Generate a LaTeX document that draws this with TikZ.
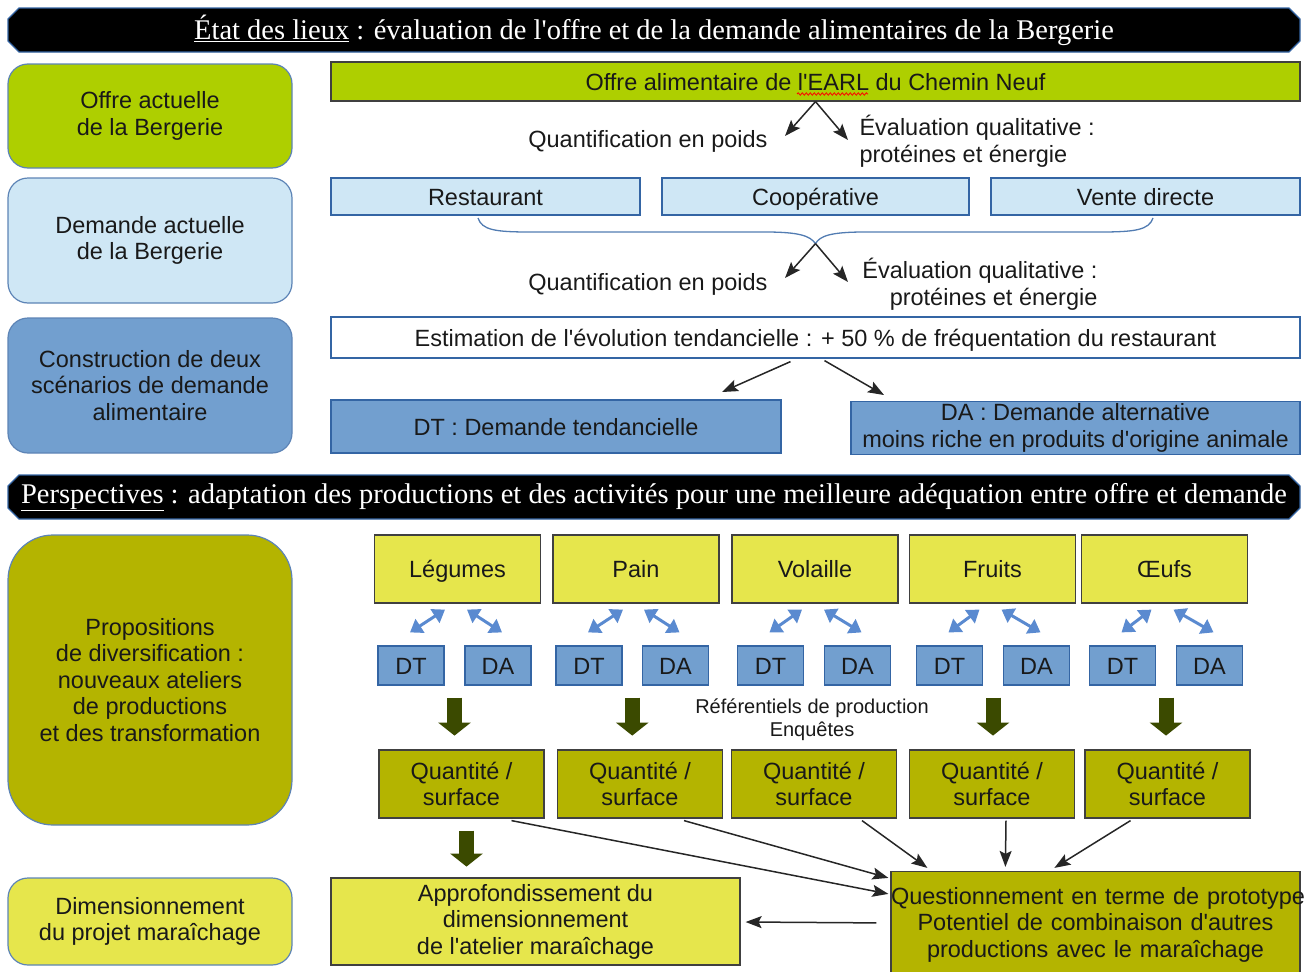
\documentclass[tikz,border=0pt]{standalone}
\usepackage{fontspec}
\setmainfont{Liberation Serif}[Ligatures=TeXOff]
\setsansfont{Liberation Sans}[Ligatures=TeXOff]
\usepackage{tikz}
\usetikzlibrary{arrows.meta}
\usetikzlibrary{calc,positioning}
\usetikzlibrary{decorations.pathmorphing}

\definecolor{vertlime}{HTML}{AECF00}
\definecolor{bleuclair}{HTML}{CFE7F5}
\definecolor{bleumoyen}{HTML}{729FCF}
\definecolor{bordbleu}{HTML}{3465A4}
\definecolor{oliveboite}{HTML}{B4B400}
\definecolor{jaune}{HTML}{E6E64C}
\definecolor{vertfonce}{HTML}{3B4A00}
\definecolor{flechebleue}{HTML}{5A8AD0}

\tikzset{
    every node/.style={font=\sffamily\fontsize{23.5}{26.5}\selectfont, text=black!90},
    left node/.style={draw=bordbleu!80, line width=1.2pt, rounded corners=20pt, minimum width=284pt, align=center, inner sep=0pt},
    box node/.style={draw=black!75, line width=1.2pt, align=center, inner sep=0pt},
    one line/.style={text height=22pt, text depth=5pt},
    blue node/.style={box node, draw=bordbleu, fill=bleumoyen},
    prod node/.style={box node, one line, fill=jaune, minimum width=166pt, minimum height=68pt},
    qte node/.style={box node, fill=oliveboite, minimum width=165pt, minimum height=68pt},
    scen node/.style={blue node, one line, minimum width=66pt, minimum height=39pt},
    banner/.style={fill=black, draw=bordbleu, line width=1.2pt},
    banner text/.style={font=\rmfamily\fontsize{28.5}{30}\selectfont, text=white},
    fleche/.style={->, line width=1.5pt, draw=black!85},
    dbl fleche/.style={{Triangle[width=16pt,length=12pt]}-{Triangle[width=16pt,length=12pt]}, line width=3pt, draw=flechebleue},
    grosse fleche/.style={-{Triangle[width=32pt,length=13pt]}, line width=15pt, draw=vertfonce},
    accolade/.style={draw=bordbleu!85, line width=1.3pt}
}

\begin{document}
\begin{tikzpicture}[x=1pt,y=-1pt,>={Stealth[length=16pt,width=12pt,inset=3pt]}]
    \useasboundingbox (0,0) rectangle (1307,972);

    % Etat des lieux
    \draw[banner] (8,19) -- (19,8) -- (1289,8) -- (1300,19) -- (1300,41) -- (1289,52) -- (19,52) -- (8,41) -- cycle;
    \node[banner text] (etat) at (654,30) {\underline{État des lieux} : évaluation de l'offre et de la demande alimentaires de la Bergerie};

    \node[left node, fill=vertlime, minimum height=104pt] (offreact) at (150,116) {Offre actuelle\\de la Bergerie};
    \node[left node, fill=bleuclair, minimum height=125pt] (demact) at (150,240.5) {Demande actuelle\\de la Bergerie};
    \node[left node, fill=bleumoyen, minimum height=135pt] (scen) at (150,385.5) {Construction de deux\\scénarios de demande\\alimentaire};

    \node[box node, one line, fill=vertlime, minimum width=969pt, minimum height=39pt] (offre) at (815.5,81.5) {Offre alimentaire de l'EARL du Chemin Neuf};
    \draw[red, line width=0.8pt, decorate, decoration={snake, amplitude=1.2pt, segment length=4pt}] (797,94) -- (868,94);
    \coordinate (poidsA) at (785,136);
    \coordinate (qualA) at (848,140);
    \draw[fleche] (offre.south) -- (poidsA);
    \draw[fleche] (offre.south) -- (qualA);
    \node[anchor=east] (txtpoidsA) at (771,141) {Quantification en poids};
    \node[anchor=west, align=left] (txtqualA) at (856,141) {Évaluation qualitative :\\protéines et énergie};

    \node[box node, one line, draw=bordbleu, fill=bleuclair, minimum width=309pt, minimum height=37pt] (resto) at (485.5,196.5) {Restaurant};
    \node[box node, one line, draw=bordbleu, fill=bleuclair, minimum width=307pt, minimum height=37pt] (coop) [right=20.8pt of resto] {Coopérative};
    \node[box node, one line, draw=bordbleu, fill=bleuclair, minimum width=309pt, minimum height=37pt] (vente) [right=20.8pt of coop] {Vente directe};

    \coordinate (pointe) at ($(coop.south)+(0,28)$);
    \draw[accolade] (478,218) .. controls (482,230) and (495,232) .. (530,232) -- (765,232)
        .. controls (800,232) and (810,236) .. (pointe)
        .. controls (820,236) and (830,232) .. (865,232) -- (1100,232)
        .. controls (1135,232) and (1149,230) .. (1153,218);
    \coordinate (poidsB) at (785,278);
    \coordinate (qualB) at (848,282);
    \draw[fleche] (pointe) -- (poidsB);
    \draw[fleche] (pointe) -- (qualB);
    \node[anchor=east] (txtpoidsB) at (771,284) {Quantification en poids};
    \node[anchor=east, align=right] (txtqualB) at (1101,284) {Évaluation qualitative :\\protéines et énergie};

    \node[box node, one line, draw=bordbleu, fill=white, minimum width=969pt, minimum height=41pt] (estim) at (815.5,337.5) {Estimation de l'évolution tendancielle : + 50 \% de fréquentation du restaurant};
    \node[blue node, one line, minimum width=450pt, minimum height=53pt] (dt) at (556,426.5) {DT : Demande tendancielle};
    \node[blue node, minimum width=449pt, minimum height=53pt] (da) at (1075.5,428) {DA : Demande alternative\\moins riche en produits d'origine animale};
    \coordinate (versdt) at (722,392);
    \coordinate (versda) at (884,395);
    \draw[fleche] ($(estim.south)+(-25,3)$) -- (versdt);
    \draw[fleche] ($(estim.south)+(9,2)$) -- (versda);

    % Perspectives
    \draw[banner] (8,486) -- (19,475) -- (1289,475) -- (1300,486) -- (1300,508) -- (1289,519) -- (19,519) -- (8,508) -- cycle;
    \node[banner text] (persp) at (654,497) {\underline{Perspectives} : adaptation des productions et des activités pour une meilleure adéquation entre offre et demande};

    \node[left node, fill=oliveboite, minimum height=290pt, rounded corners=45pt] (propos) at (150,680) {Propositions\\de diversification :\\nouveaux ateliers\\de productions\\et des transformation};
    \node[left node, fill=jaune, minimum height=87pt] (dimens) at (150,921.5) {Dimensionnement\\du projet maraîchage};

    \node[prod node] (leg) at (457.5,569) {Légumes};
    \node[prod node] (pain) at (636,569) {Pain};
    \node[prod node] (vol) at (815,569) {Volaille};
    \node[prod node] (fruit) at (992.5,569) {Fruits};
    \node[prod node] (oeuf) at (1164.5,569) {Œufs};

    \node[scen node] (dt1) at (411,665.5) {DT};
    \node[scen node] (da1) at (498,665.5) {DA};
    \node[scen node] (dt2) at (589,665.5) {DT};
    \node[scen node] (da2) at (675.5,665.5) {DA};
    \node[scen node] (dt3) at (770.5,665.5) {DT};
    \node[scen node] (da3) at (857.5,665.5) {DA};
    \node[scen node] (dt4) at (949.5,665.5) {DT};
    \node[scen node] (da4) at (1036.5,665.5) {DA};
    \node[scen node] (dt5) at (1122.5,665.5) {DT};
    \node[scen node] (da5) at (1209.5,665.5) {DA};

    \draw[dbl fleche] ($(dt1.north)+(-1,-13)$) -- ($(leg.south)+(-12.5,6)$);
    \draw[dbl fleche] ($(leg.south)+(9.5,6)$) -- ($(da1.north)+(4,-13)$);
    \draw[dbl fleche] ($(dt2.north)+(-1,-13)$) -- ($(pain.south)+(-13,6)$);
    \draw[dbl fleche] ($(pain.south)+(8,6)$) -- ($(da2.north)+(4,-13)$);
    \draw[dbl fleche] ($(dt3.north)+(-1,-13)$) -- ($(vol.south)+(-13,6)$);
    \draw[dbl fleche] ($(vol.south)+(9,6)$) -- ($(da3.north)+(4,-13)$);
    \draw[dbl fleche] ($(dt4.north)+(-1,-13)$) -- ($(fruit.south)+(-13,6)$);
    \draw[dbl fleche] ($(fruit.south)+(9,6)$) -- ($(da4.north)+(4,-13)$);
    \draw[dbl fleche] ($(dt5.north)+(-1,-13)$) -- ($(oeuf.south)+(-13,6)$);
    \draw[dbl fleche] ($(oeuf.south)+(9,6)$) -- ($(da5.north)+(4,-13)$);

    \draw[grosse fleche] ($(dt1.south)!.5!(da1.south)+(0,12)$) -- ++(0,38);
    \draw[grosse fleche] ($(dt2.south)!.5!(da2.south)+(0,12)$) -- ++(0,38);
    \draw[grosse fleche] ($(dt4.south)!.5!(da4.south)+(0,12)$) -- ++(0,38);
    \draw[grosse fleche] ($(dt5.south)!.5!(da5.south)+(0,12)$) -- ++(0,38);
    \node[font=\sffamily\fontsize{20}{23}\selectfont, align=center] (refs) at (812,720) {Référentiels de production\\Enquêtes};

    \node[qte node] (qt1) at (461.5,784) {Quantité /\\surface};
    \node[qte node] (qt2) at (640,784) {Quantité /\\surface};
    \node[qte node] (qt3) at (814,784) {Quantité /\\surface};
    \node[qte node] (qt4) at (992,784) {Quantité /\\surface};
    \node[qte node] (qt5) at (1167.5,784) {Quantité /\\surface};

    \node[box node, fill=jaune, minimum width=409pt, minimum height=87pt] (appro) at (535.5,921.5) {Approfondissement du\\dimensionnement\\de l'atelier maraîchage};
    \node[box node, fill=oliveboite, text width=409pt, minimum height=106pt] (quest) at (1095.5,924.5) {\mbox{Questionnement en terme de prototype}\\\mbox{Potentiel de combinaison d'autres}\\\mbox{productions avec le maraîchage}};

    \draw[grosse fleche] ($(qt1.south)+(5,12)$) -- ++(0,36);
    \draw[fleche] ($(qt1.south)+(50,2)$) -- ($(quest.north west)+(-2,23)$);
    \draw[fleche] ($(qt2.south)+(44,2)$) -- ($(quest.north west)+(-2,7)$);
    \draw[fleche] ($(qt3.south)+(48,2)$) -- ($(quest.north west)+(37,-3)$);
    \draw[fleche] ($(qt4.south)+(14,2)$) -- ($(quest.north west)+(115,-4)$);
    \draw[fleche] ($(qt5.south)+(-37,2)$) -- ($(quest.north west)+(164,-3)$);
    \draw[fleche] ($(quest.north west)+(-14,52)$) -- ($(appro.east)+(5,0.5)$);

\end{tikzpicture}
\end{document}
